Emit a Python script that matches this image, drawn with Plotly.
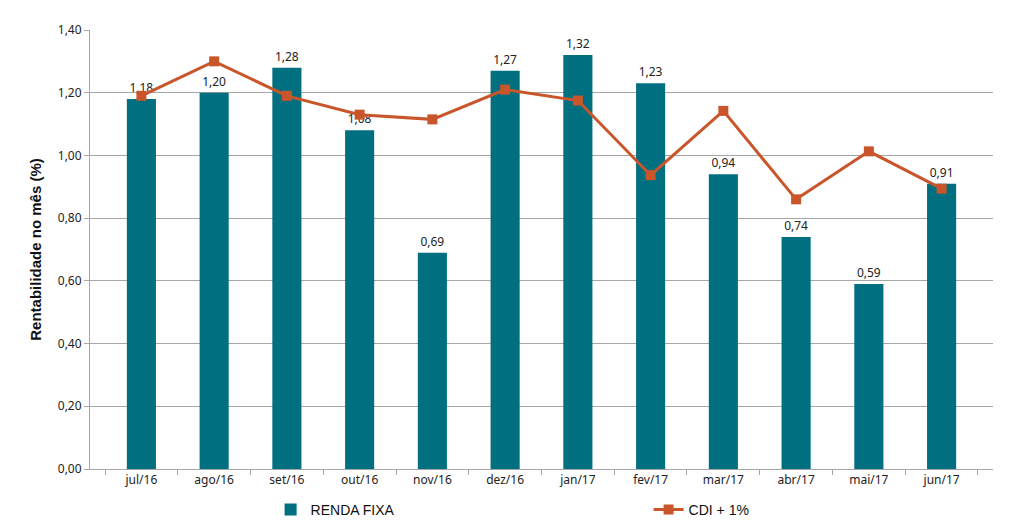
import plotly.graph_objects as go

months = ["jul/16", "ago/16", "set/16", "out/16", "nov/16", "dez/16",
          "jan/17", "fev/17", "mar/17", "abr/17", "mai/17", "jun/17"]
renda_fixa = [1.18, 1.20, 1.28, 1.08, 0.69, 1.27, 1.32, 1.23, 0.94, 0.74, 0.59, 0.91]
cdi_mais_1 = [1.19, 1.30, 1.19, 1.13, 1.115, 1.21, 1.175, 0.937, 1.142, 0.86, 1.013, 0.894]
y_ticks = [0.0, 0.2, 0.4, 0.6, 0.8, 1.0, 1.2, 1.4]

bar_color = "#006F80"
line_color = "#C9562B"
grid_color = "#A6A6A6"

fig = go.Figure()
fig.add_trace(go.Bar(
    x=months, y=renda_fixa, name="RENDA FIXA",
    marker=dict(color=bar_color, line=dict(width=0)),
    texttemplate="%{y:.2f}", textposition="outside",
    textfont=dict(family="Noto Sans", size=12, color="#222222"),
    cliponaxis=False,
))
fig.add_trace(go.Scatter(
    x=months, y=cdi_mais_1, name="CDI + 1%", mode="lines+markers",
    line=dict(color=line_color, width=3),
    marker=dict(symbol="square", size=10, color=line_color),
))

fig.update_layout(
    width=1023, height=525,
    margin=dict(l=82, r=38, t=22, b=64, autoexpand=False),
    paper_bgcolor="white", plot_bgcolor="white",
    separators=",.",
    bargap=0.6,
    showlegend=True,
    legend=dict(orientation="h", x=0.2, xanchor="left", y=-0.093, yanchor="middle",
                font=dict(family="Liberation Sans, Arial", size=14, color="#111111"),
                entrywidth=333, entrywidthmode="pixels",
                itemwidth=30),
    font=dict(family="Noto Sans", size=12, color="#222222"),
)
fig.update_xaxes(
    showline=True, linecolor=grid_color, linewidth=1,
    ticks="outside", tickson="boundaries", ticklen=5, tickcolor=grid_color,
    tickfont=dict(family="Noto Sans", size=12, color="#222222"),
    showgrid=False, automargin=False,
)
fig.update_yaxes(
    range=[0, 1.4], tickvals=y_ticks, tickformat=".2f",
    showline=True, linecolor=grid_color, linewidth=1,
    ticks="outside", ticklen=5, tickcolor=grid_color,
    showgrid=True, gridcolor=grid_color, gridwidth=1,
    zeroline=False, automargin=False,
    tickfont=dict(family="Noto Sans", size=12, color="#222222"),
    title=dict(text="<b>Rentabilidade no mês (%)</b>",
               font=dict(family="Liberation Sans, Arial", size=15, color="#111111"),
               standoff=12),
)

fig.write_html("out.html")
